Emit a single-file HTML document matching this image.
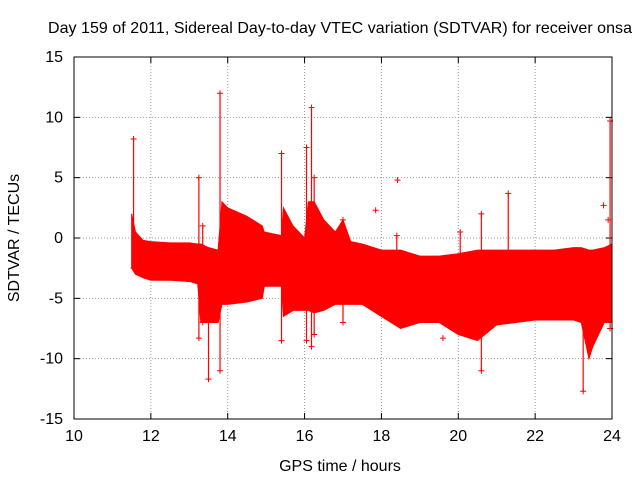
<!DOCTYPE html>
<html><head><meta charset="utf-8"><style>
body{margin:0;background:#fff}
svg text{font-family:"Liberation Sans",sans-serif;font-size:14px;fill:#000}
svg text.big{font-size:16px}
</style></head><body>
<svg id="c" width="640" height="480">
<text class="big" x="340" y="33" text-anchor="middle" textLength="584">Day 159 of 2011, Sidereal Day-to-day VTEC variation (SDTVAR) for receiver onsa</text>
<text class="big" x="340" y="471" text-anchor="middle">GPS time / hours</text>
<text class="big" x="0" y="0" transform="translate(19,238) rotate(-90)" text-anchor="middle">SDTVAR / TECUs</text>
<g id="grid"></g><g id="data"></g>
<rect x="74" y="57" width="538" height="362" fill="none" stroke="#000"/>
</svg>
<script>
const xTicks=[10,12,14,16,18,20,22,24];
const yTicks=[-15,-10,-5,0,5,10,15];
const envTime=[11.5,11.6,11.8,12,12.5,13,13.22,13.3,13.5,13.75,13.85,14,14.5,14.9,14.95,15.4,15.45,15.7,16,16.1,16.25,16.5,16.8,17,17.2,17.5,18,18.5,19,19.5,20,20.5,21,21.5,22,22.5,23,23.2,23.4,23.5,23.8,24];
const envUpper=[2,0.5,-0.2,-0.3,-0.4,-0.4,-0.5,-0.5,-0.8,-1,3,2.5,1.8,1,0.5,0.2,2.5,1,0,3,3,1.5,0.5,1.5,-0.3,-0.5,-1,-1,-1.5,-1.5,-1.3,-1,-1,-1,-1,-1,-0.8,-0.8,-1,-1,-0.8,-0.5];
const envLower=[-2.5,-3,-3.3,-3.5,-3.5,-3.6,-3.8,-7,-7,-7,-5.5,-5.5,-5.3,-5,-4,-4,-6.5,-6,-6,-6,-6.2,-6,-5.5,-5.5,-5.5,-5.5,-6.5,-7.5,-7,-7,-8,-8.5,-7.2,-7,-6.8,-6.8,-6.8,-7,-10,-9,-7,-7];
const spikeTime=[11.55,13.25,13.35,13.5,13.8,15.4,16.05,16.18,16.25,17.0,18.4,20.05,20.6,21.3,23.25,23.95];
const spikeHigh=[8.2,5,1,-1,12,7,7.5,10.8,5,1.5,0.2,0.5,2,3.7,-3,9.7];
const spikeLow=[-2.5,-8.3,-7,-11.7,-11,-8.5,-8.5,-9,-8,-7,-7,-7,-11,-6,-12.7,-7.5];
const outTime=[17.85,18.42,19.6,23.78,23.9];
const outVal=[2.3,4.8,-8.3,2.7,1.5];
const X=t=>74+(t-10)*538/14, Y=v=>238-v*362/30;
const NS='http://www.w3.org/2000/svg';
function mk(tag,attrs,parent){const e=document.createElementNS(NS,tag);for(const k in attrs)e.setAttribute(k,attrs[k]);parent.appendChild(e);return e;}
const g=document.getElementById('grid'),d=document.getElementById('data');
xTicks.forEach(t=>{
 if(t>10&&t<24){const l=mk('line',{x1:X(t),x2:X(t),y1:57,y2:419,stroke:'#999','stroke-dasharray':'1,2'},g);
 
 }
 mk('line',{x1:X(t),x2:X(t),y1:419,y2:413,stroke:'#000'},g);
 mk('line',{x1:X(t),x2:X(t),y1:57,y2:63,stroke:'#000'},g);
 const tx=mk('text',{x:X(t),y:441,'text-anchor':'middle',class:'big'},g);tx.textContent=t;
 
 
});
yTicks.forEach(v=>{
 if(v>-15&&v<15){const l=mk('line',{x1:74,x2:612,y1:Y(v),y2:Y(v),stroke:'#999','stroke-dasharray':'1,2'},g);
 
 }
 mk('line',{x1:74,x2:80,y1:Y(v),y2:Y(v),stroke:'#000'},g);
 mk('line',{x1:612,x2:606,y1:Y(v),y2:Y(v),stroke:'#000'},g);
 const tx=mk('text',{x:63,y:Y(v)+5,'text-anchor':'end',class:'big'},g);tx.textContent=v;
 
 
});
let pts=envTime.map((t,i)=>X(t)+','+Y(envUpper[i]));
for(let i=envTime.length-1;i>=0;i--)pts.push(X(envTime[i])+','+Y(envLower[i]));
const poly=mk('polygon',{points:pts.join(' '),fill:'#f00',stroke:'#f00','stroke-width':1},d);


function plus(t,v){const p=mk('path',{d:`M${X(t)-3},${Y(v)}h6M${X(t)},${Y(v)-3}v6`,stroke:'#f00','stroke-width':1},d);
 
 }
spikeTime.forEach((t,i)=>{
 const l=mk('line',{x1:X(t),x2:X(t),y1:Y(spikeHigh[i]),y2:Y(spikeLow[i]),stroke:'#f00','stroke-width':1.2},d);
 
 
 plus(t,spikeHigh[i]);plus(t,spikeLow[i]);
});
outTime.forEach((t,i)=>plus(t,outVal[i]));
</script>
</body></html>
